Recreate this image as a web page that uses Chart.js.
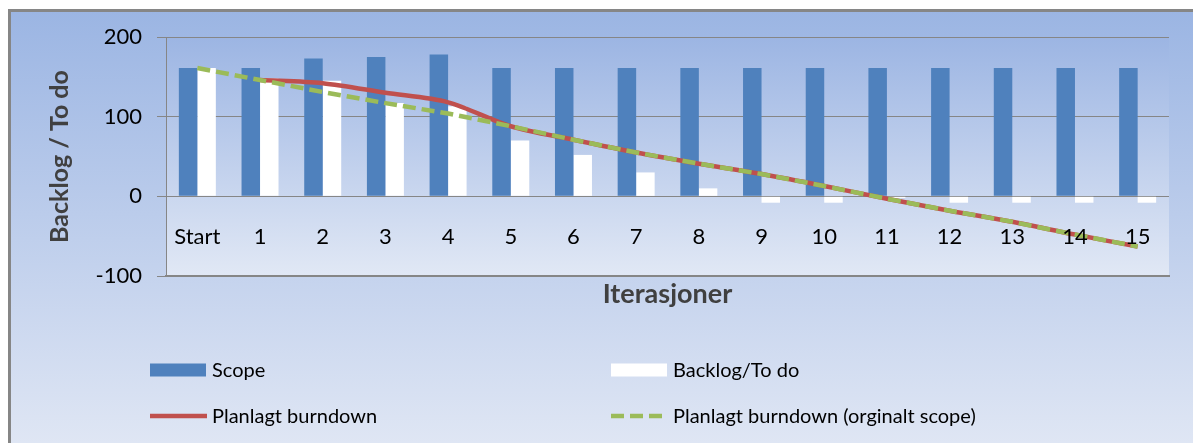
<!DOCTYPE html>
<html>
<head>
<meta charset="utf-8">
<script src="https://cdn.jsdelivr.net/npm/chart.js@4/dist/chart.umd.min.js"></script>
<style>
html,body{margin:0;padding:0;background:#ffffff;}
#wrap{width:1193px;height:443px;position:relative;overflow:hidden;}
canvas{display:block;}
</style>
</head>
<body>
<div id="wrap"><canvas id="c" width="1193" height="443"></canvas></div>
<script>
// ---- data ----
const categories = ['Start','1','2','3','4','5','6','7','8','9','10','11','12','13','14','15'];
const scopeValues = [161,161,173,175,178,161,161,161,161,161,161,161,161,161,161,161];
const backlogValues = [161,148,145,117,113,70,52,30,10,-8,-8,-2,-8,-8,-8,-8];
const plannedBurndown = [null,146,142,130,118,88,71,55,41,28,13,-3,-18,-32,-48,-63];
const originalPlannedBurndown = [161,146,131,117,104,88,71,55,41,28,13,-3,-18,-32,-48,-63];
const yTickValues = [-100,0,100,200];
const seriesNames = ['Scope','Backlog/To do','Planlagt burndown','Planlagt burndown (orginalt scope)'];
const xAxisTitle = 'Iterasjoner';
const yAxisTitle = 'Backlog / To do';

const FONT = 'Lato, "Open Sans", "Liberation Sans", sans-serif';

const backgroundPlugin = {
  id: 'bgPlugin',
  beforeDraw(chart) {
    const ctx = chart.ctx;
    const W = chart.width, H = chart.height;
    ctx.save();
    ctx.fillStyle = '#ffffff';
    ctx.fillRect(0, 0, W, H);
    const g = ctx.createLinearGradient(0, 10, 0, H);
    g.addColorStop(0, '#9bb5e3');
    g.addColorStop(1, '#dfe6f4');
    ctx.fillStyle = g;
    ctx.fillRect(9.5, 10.5, W, H);
    ctx.strokeStyle = '#868686';
    ctx.lineWidth = 3;
    ctx.beginPath();
    ctx.moveTo(9.5, H + 5);
    ctx.lineTo(9.5, 10.5);
    ctx.lineTo(W + 5, 10.5);
    ctx.stroke();
    const a = chart.chartArea;
    const g2 = ctx.createLinearGradient(0, a.top, 0, a.bottom);
    g2.addColorStop(0, '#9cb5e3');
    g2.addColorStop(1, '#e1e8f5');
    ctx.fillStyle = g2;
    ctx.fillRect(a.left, a.top, a.right - a.left, a.bottom - a.top);
    ctx.restore();
  }
};

const categoryLabelPlugin = {
  id: 'catLabels',
  afterDatasetsDraw(chart) {
    const ctx = chart.ctx;
    const xs = chart.scales.x;
    ctx.save();
    ctx.font = '22px ' + FONT;
    ctx.fillStyle = '#000000';
    ctx.textAlign = 'center';
    ctx.textBaseline = 'middle';
    chart.data.labels.forEach((lab, i) => {
      ctx.fillText(xs.getLabelForValue(i), xs.getPixelForValue(i), 237);
    });
    ctx.restore();
  }
};

const legendPlugin = {
  id: 'customLegend',
  afterDraw(chart) {
    const ctx = chart.ctx;
    const slots = [[150, 370], [611, 370], [150, 416], [611, 416]];
    ctx.save();
    ctx.font = '20px ' + FONT;
    ctx.textBaseline = 'middle';
    ctx.textAlign = 'left';
    chart.data.datasets.forEach((ds, i) => {
      const [x, y] = slots[i];
      if (ds.type === 'bar') {
        ctx.fillStyle = ds.backgroundColor;
        ctx.fillRect(x, y - 6.5, 56, 13);
      } else {
        ctx.strokeStyle = ds.borderColor;
        ctx.lineWidth = ds.borderWidth;
        ctx.lineCap = 'butt';
        ctx.setLineDash(ds.borderDash || []);
        ctx.beginPath();
        ctx.moveTo(x, y);
        ctx.lineTo(x + 57, y);
        ctx.stroke();
        ctx.setLineDash([]);
      }
      ctx.fillStyle = '#000000';
      ctx.fillText(ds.label, x + 62, y + 1);
    });
    ctx.restore();
  }
};

new Chart(document.getElementById('c'), {
  data: {
    labels: categories,
    datasets: [
      { type: 'bar', label: seriesNames[0], data: scopeValues, backgroundColor: '#4f81bd', borderWidth: 0,
        categoryPercentage: 0.59, barPercentage: 1.0, order: 2 },
      { type: 'bar', label: seriesNames[1], data: backlogValues, backgroundColor: '#ffffff', borderWidth: 0,
        categoryPercentage: 0.59, barPercentage: 1.0, order: 3 },
      { type: 'line', label: seriesNames[2], data: plannedBurndown, borderColor: '#c0504d', borderWidth: 4.5,
        pointRadius: 0, tension: 0.3, fill: false, order: 1 },
      { type: 'line', label: seriesNames[3], data: originalPlannedBurndown, borderColor: '#9bbb59', borderWidth: 4.5,
        borderDash: [13, 6], borderCapStyle: 'butt', pointRadius: 0, tension: 0, fill: false, order: 0 }
    ]
  },
  options: {
    responsive: false,
    devicePixelRatio: 1,
    animation: false,
    events: [],
    layout: { padding: { left: 0, top: 37, right: 24, bottom: 127 } },
    plugins: { legend: { display: false }, tooltip: { enabled: false }, title: { display: false } },
    scales: {
      x: {
        type: 'category',
        offset: true,
        grid: { display: false, drawTicks: false },
        border: { display: true, color: '#868686', width: 2 },
        ticks: { display: false },
        title: { display: true, text: xAxisTitle, color: '#404040',
          font: { family: FONT, size: 27, weight: 'bold' }, padding: { top: 0, bottom: 6 } },
        afterFit(s) { s.height = 40; }
      },
      y: {
        min: yTickValues[0],
        max: yTickValues[yTickValues.length - 1],
        afterBuildTicks(s) { s.ticks = yTickValues.map(v => ({ value: v })); },
        ticks: { padding: 15, color: '#000000', font: { family: FONT, size: 22 } },
        grid: { color: '#868686', lineWidth: 1, tickLength: 9, drawTicks: true },
        border: { display: true, color: '#868686', width: 1 },
        title: { display: true, text: yAxisTitle, color: '#404040',
          font: { family: FONT, size: 25, weight: 'bold' }, padding: { top: 45, bottom: 0 } },
        afterFit(s) { s.width = 166; }
      }
    }
  },
  plugins: [backgroundPlugin, categoryLabelPlugin, legendPlugin]
});
</script>
</body>
</html>
